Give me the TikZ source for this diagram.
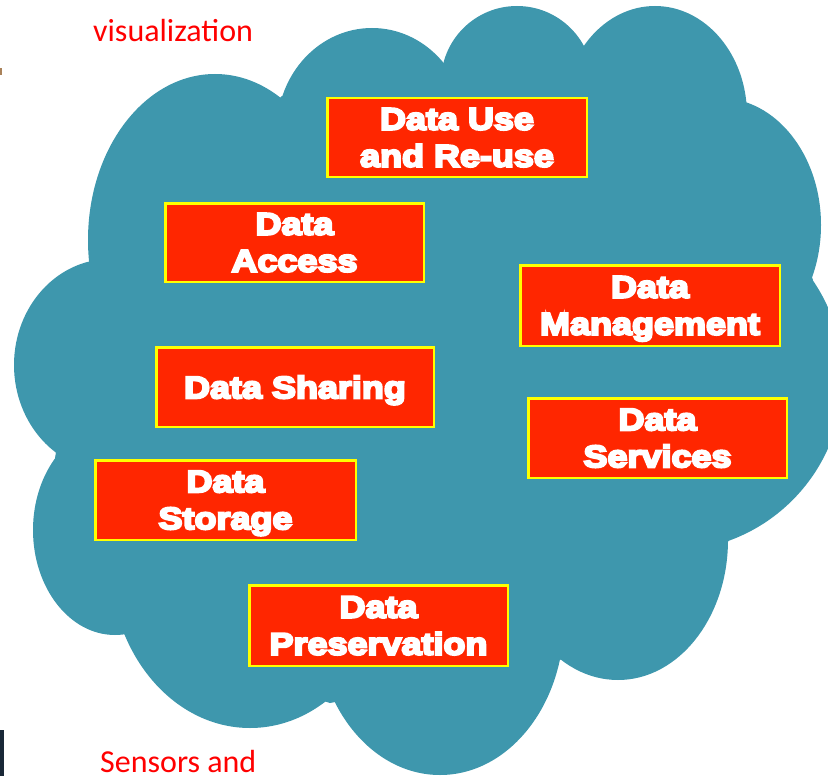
\documentclass[tikz,border=0pt]{standalone}
\usepackage{fontspec}
\setmainfont{Carlito}
\newfontfamily\boxfont[FakeStretch=1.16,FakeBold=7]{Liberation Sans Bold}
\definecolor{cloudteal}{RGB}{62,151,173}
\definecolor{boxred}{RGB}{255,38,0}
\definecolor{boxyellow}{RGB}{255,255,0}
\definecolor{labelred}{RGB}{255,0,0}
\definecolor{edgedark}{RGB}{25,40,55}
\definecolor{edgebrown}{RGB}{170,130,90}
\begin{document}
\begin{tikzpicture}[x=1pt,y=-1pt,
  databox/.style={draw=boxyellow, line width=2.5pt, fill=boxred, text=white,
    inner sep=0pt, align=center, text depth=0pt,
    font=\boxfont\fontsize{31}{37}\selectfont},
  redlabel/.style={text=labelred, font=\fontsize{32}{38}\selectfont,
    anchor=base west, inner sep=0pt}]
\useasboundingbox (0,0) rectangle (828,776);
% cloud
\fill[cloudteal]
  (89,262) -- (282,96) -- (443,64) -- (584,47) -- (747,103) -- (813,280)
  -- (728,542) -- (560,660) -- (330,703) -- (125,635) -- (55,458) -- cycle;
\fill[cloudteal] (215,240) ellipse [x radius=127pt, y radius=166pt];
\fill[cloudteal] (372,130) ellipse [x radius=95pt, y radius=102pt];
\fill[cloudteal] (517,82) circle [radius=76pt];
\fill[cloudteal] (655,115) ellipse [x radius=92pt, y radius=109pt];
\fill[cloudteal] (720,225) ellipse [x radius=101pt, y radius=127pt];
\fill[cloudteal] (670,378) circle [radius=173pt];
\fill[cloudteal] (618,540) ellipse [x radius=110pt, y radius=140pt];
\fill[cloudteal] (440,620) ellipse [x radius=124pt, y radius=155pt];
\fill[cloudteal] (250,560) ellipse [x radius=140pt, y radius=168pt];
\fill[cloudteal] (115,530) ellipse [x radius=82pt, y radius=105pt];
\fill[cloudteal] (110,365) ellipse [x radius=96pt, y radius=106pt];
% edge fragments
\fill[edgedark] (0,730) rectangle (4,776);
\fill[edgebrown] (0,68) rectangle (1.5,75);
% boxes
\node[databox, minimum width=259.5pt, minimum height=78.5pt] (use) at (457,137.5) {Data Use\\and Re-use};
\node[databox, minimum width=258.5pt, minimum height=78.5pt] (access) at (294.5,242.5) {Data\\Access};
\node[databox, minimum width=259.5pt, minimum height=80.5pt] (mgmt) at (650,305.5) {Data\\Management};
\node[databox, minimum width=277.5pt, minimum height=79.5pt] (sharing) at (295,387) {Data Sharing};
\node[databox, minimum width=258.5pt, minimum height=79.5pt] (services) at (657.5,438) {Data\\Services};
\node[databox, minimum width=260.5pt, minimum height=79.5pt] (storage) at (225.5,500) {Data\\Storage};
\node[databox, minimum width=258.5pt, minimum height=80.5pt] (pres) at (378.5,625.5) {Data\\Preservation};
% labels
\node[redlabel] (vis) at (93,42) {visualization};
\node[redlabel] (sens) at (100,772) {Sensors and};
\end{tikzpicture}
\end{document}
